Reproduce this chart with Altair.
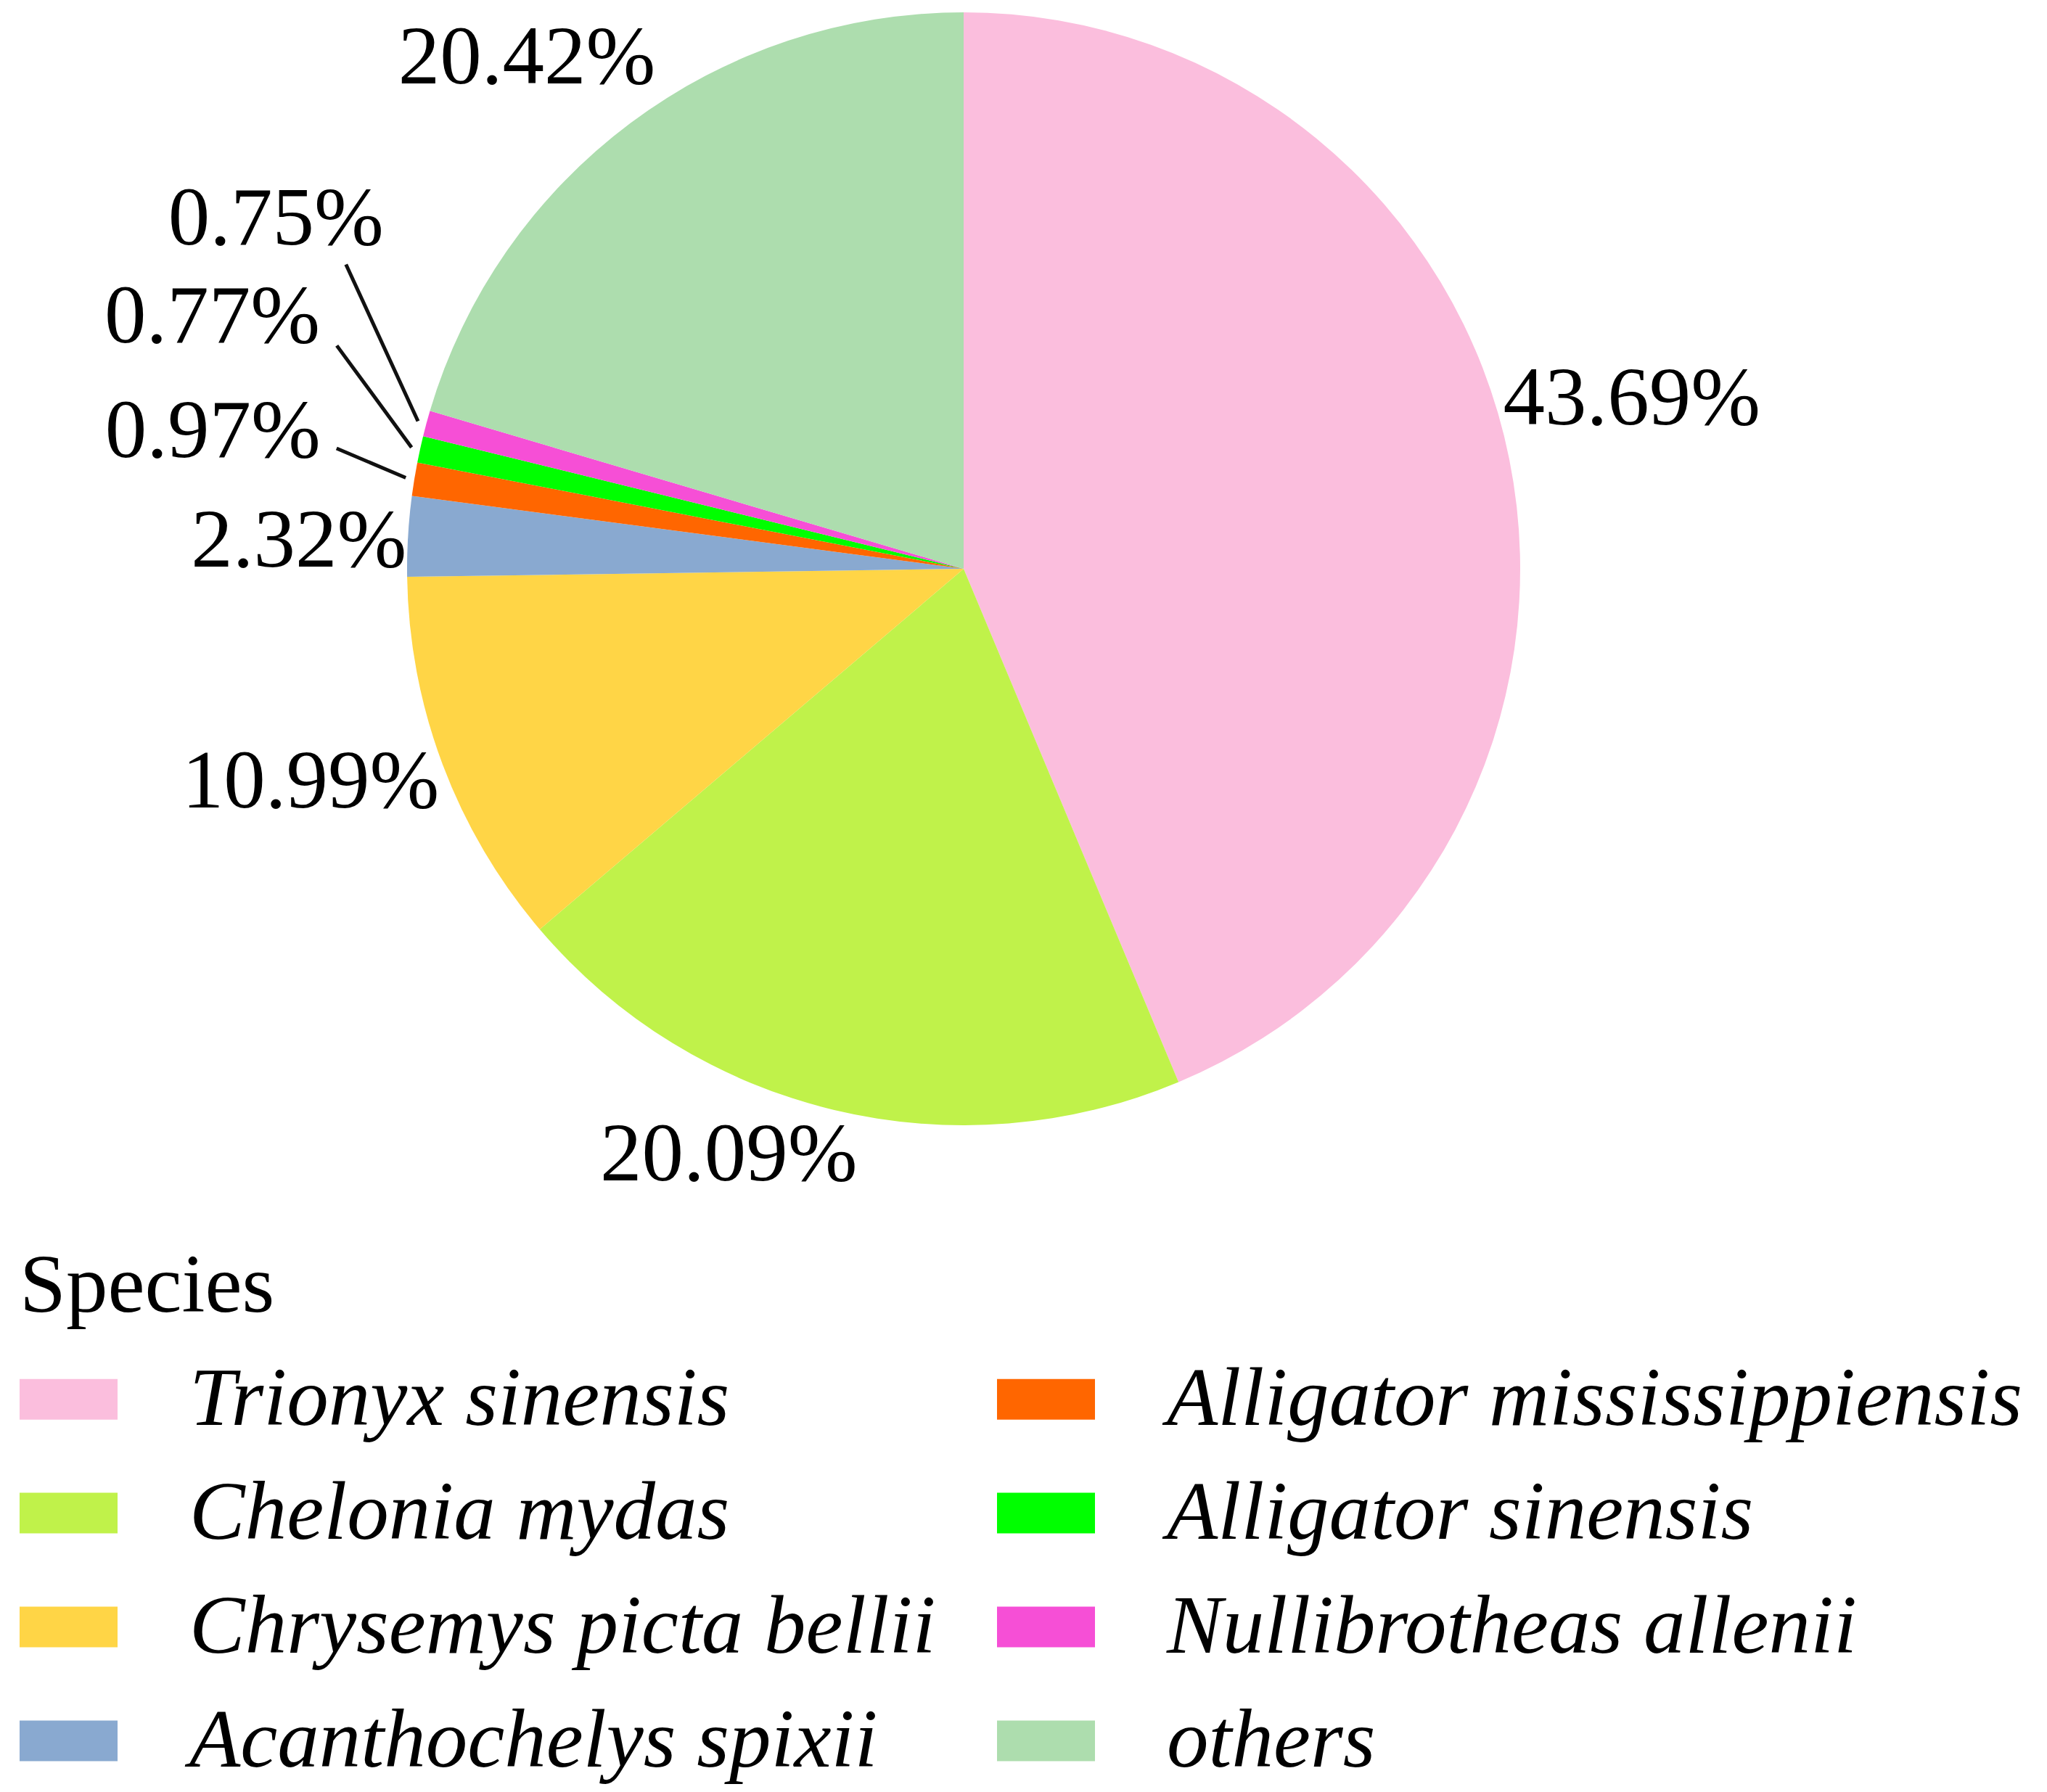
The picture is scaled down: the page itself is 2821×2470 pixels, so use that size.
import math
import altair as alt
import pandas as pd

# ---- data ----
species = [
    "Trionyx sinensis",
    "Chelonia mydas",
    "Chrysemys picta bellii",
    "Acanthochelys spixii",
    "Alligator mississippiensis",
    "Alligator sinensis",
    "Nullibrotheas allenii",
    "others",
]
percent = [43.69, 20.09, 10.99, 2.32, 0.97, 0.77, 0.75, 20.42]
colors = ["#FBBEDD", "#C0F24A", "#FFD546", "#89A9D0",
          "#FF6600", "#00FF00", "#F64FD6", "#ADDDAE"]

# ---- label layout (nudges relative to each slice's mid angle) ----
label_nudge_deg = [-2.9, 8.4, 2.5, -1.0, 1.1, 6.1, 11.8, -3.8]
label_radius = [950, 870, 947, 917, 1052, 1092, 1063, 926]
leader_nudge_deg = [0, 0, 0, 0, 1.6, 7.2, 11.1, 0]
leader_radius = [0, 0, 0, 0, 880, 917, 949, 0]

R = 767
W, H = 2640, 1552
FONT = "Liberation Serif"
FS = 115

rows = []
cum = 0.0
for i, (s, p) in enumerate(zip(species, percent)):
    mid = (cum + p / 2) / 100 * 360
    cum += p
    la = math.radians(mid + label_nudge_deg[i])
    row = dict(
        species=s, pct=p / 100, idx=i,
        lx=label_radius[i] * math.sin(la), ly=label_radius[i] * math.cos(la),
    )
    if leader_radius[i] > 0:
        m = math.radians(mid)
        e = math.radians(mid + leader_nudge_deg[i])
        row.update(
            x1=(R + 12) * math.sin(m), y1=(R + 12) * math.cos(m),
            x2=leader_radius[i] * math.sin(e), y2=leader_radius[i] * math.cos(e),
        )
    rows.append(row)
df = pd.DataFrame(rows)
leaders = df.dropna(subset=["x1"])

xs = alt.Scale(domain=[-W / 2, W / 2])
ys = alt.Scale(domain=[-H / 2, H / 2])

pie = alt.Chart(df).mark_arc(radius=R, stroke=None).encode(
    theta=alt.Theta("pct:Q", stack=True),
    order=alt.Order("idx:Q"),
    color=alt.Color(
        "species:N",
        scale=alt.Scale(domain=species, range=colors),
        legend=alt.Legend(
            title="Species",
            orient="none", legendX=19, legendY=1709,
            direction="vertical",
            columns=2, columnPadding=84, rowPadding=31,
            titleFont=FONT, titleFontSize=FS, titleFontWeight="normal",
            titleColor="#000000", titlePadding=29, titleLimit=3000,
            labelFont=FONT, labelFontSize=FS, labelFontStyle="italic",
            labelColor="#000000", labelLimit=3000, labelOffset=99,
            symbolType="M-1,-0.415H1V0.415H-1Z", symbolSize=18225,
            symbolStrokeWidth=0, symbolOpacity=1, padding=0,
        ),
    ),
)

labels = alt.Chart(df).mark_text(
    font=FONT, fontSize=FS, color="#000000", align="center", baseline="middle"
).encode(
    x=alt.X("lx:Q", scale=xs, axis=None),
    y=alt.Y("ly:Q", scale=ys, axis=None),
    text=alt.Text("pct:Q", format=".2%"),
)

lines = alt.Chart(leaders).mark_rule(color="#111111", strokeWidth=5).encode(
    x=alt.X("x1:Q", scale=xs, axis=None),
    y=alt.Y("y1:Q", scale=ys, axis=None),
    x2="x2:Q",
    y2="y2:Q",
)

chart = alt.layer(pie, lines, labels).properties(
    width=W, height=H,
    background="white",
    autosize=alt.AutoSizeParams(type="none"),
    padding={"left": 0, "top": 0, "right": 165, "bottom": 902},
).configure_view(stroke=None, strokeWidth=0)

chart.save("out.html", embed_options={"renderer": "svg", "actions": False})
